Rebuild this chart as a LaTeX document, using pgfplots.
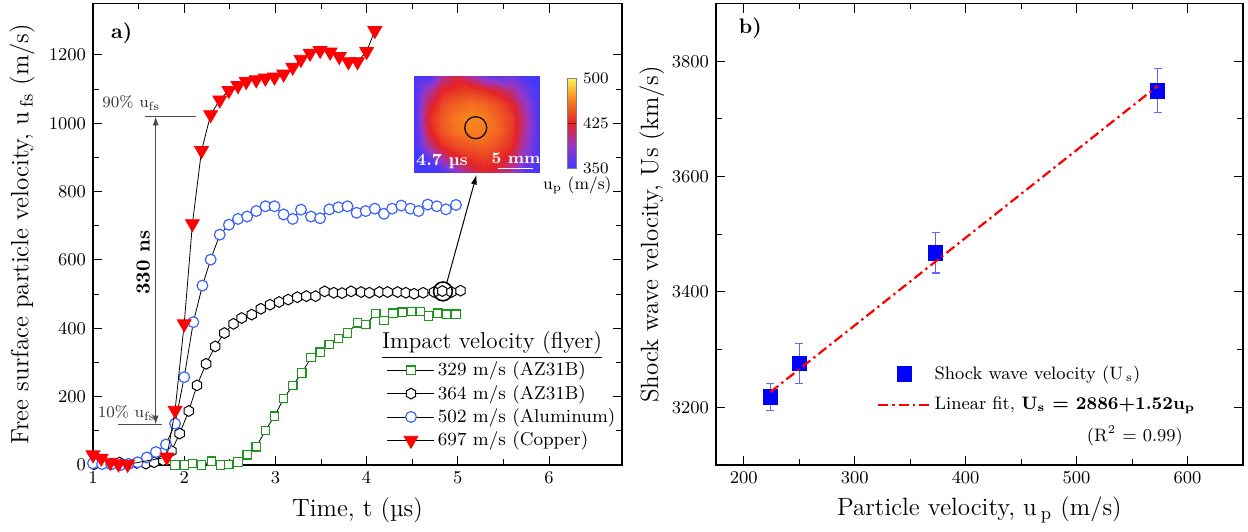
\documentclass[border=0pt]{standalone}
\usepackage{pgfplots}
\pgfplotsset{compat=1.18}
\usetikzlibrary{arrows.meta}

\definecolor{cgreen}{RGB}{30,150,30}
\definecolor{cblue}{RGB}{60,100,250}
\definecolor{ebar}{RGB}{100,100,255}

\pgfdeclareplotmark{hexagon}{%
 \pgfpathmoveto{\pgfpointpolar{90}{\pgfplotmarksize}}%
 \pgfpathlineto{\pgfpointpolar{150}{\pgfplotmarksize}}%
 \pgfpathlineto{\pgfpointpolar{210}{\pgfplotmarksize}}%
 \pgfpathlineto{\pgfpointpolar{270}{\pgfplotmarksize}}%
 \pgfpathlineto{\pgfpointpolar{330}{\pgfplotmarksize}}%
 \pgfpathlineto{\pgfpointpolar{30}{\pgfplotmarksize}}%
 \pgfpathclose\pgfusepathqfillstroke}

\pgfplotsset{
 mystyle/.style={
  scale only axis, width=264.5pt, height=230.7pt,
  tick align=inside, major tick length=4.5pt, minor tick length=2.8pt,
  tick style={black, line width=0.5pt},
  axis line style={line width=0.6pt},
  ticklabel style={font=\fontsize{9}{10}\selectfont},
  /pgf/number format/1000 sep={},
  label style={font=\fontsize{12.5}{14}\selectfont},
  xlabel style={at={(axis description cs:0.5,-0.0975)}, anchor=center},
  clip mode=individual,
 }
}

\pgfplotstableread{
t u
1.00 30
1.09 20
1.19 8
1.28 3
1.38 2
1.81 23
1.90 160
2.00 413
2.09 706
2.19 920
2.29 1025
2.39 1068
2.49 1096
2.59 1110
2.68 1122
2.79 1127
2.89 1132
2.99 1135
3.09 1144
3.19 1164
3.28 1187
3.38 1205
3.49 1213
3.60 1208
3.70 1195
3.80 1180
3.90 1180
4.00 1210
4.09 1271
}\copper

\pgfplotstableread{
t u
1.00 5
1.10 3
1.20 2
1.30 0
1.39 3
1.49 8
1.59 22
1.69 38
1.80 60
1.90 121
2.00 257
2.10 418
2.20 525
2.29 601
2.39 674
2.49 703
2.59 720
2.69 727
2.79 743
2.89 757
2.99 757
3.09 733
3.19 720
3.28 747
3.39 727
3.49 722
3.59 748
3.69 754
3.79 757
3.89 738
3.99 743
4.09 750
4.19 735
4.28 750
4.38 759
4.48 750
4.57 743
4.67 762
4.77 757
4.87 748
4.98 761
}\alum

\pgfplotstableread{
t u
1.01 2
1.10 6
1.20 3
1.29 7
1.39 3
1.48 6
1.58 4
1.67 8
1.77 14
1.86 41
1.95 92
2.05 158
2.14 233
2.24 296
2.34 347
2.44 386
2.54 413
2.63 430
2.74 440
2.84 457
2.94 469
3.04 477
3.14 484
3.24 491
3.34 494
3.44 494
3.54 508
3.64 504
3.73 503
3.83 508
3.94 506
4.03 504
4.14 506
4.23 506
4.34 506
4.43 504
4.52 501
4.62 504
4.74 506
4.83 509
4.93 506
5.03 510
}\azb

\pgfplotstableread{
t u
1.90 0
2.00 0
2.09 4
2.19 0
2.30 11
2.40 0
2.49 2
2.59 9
2.69 30
2.79 53
2.89 101
2.99 143
3.09 194
3.19 233
3.29 269
3.39 314
3.49 330
3.59 353
3.69 370
3.79 386
3.90 416
3.99 411
4.10 443
4.19 423
4.29 444
4.39 447
4.49 449
4.59 449
4.68 436
4.78 444
4.88 441
4.98 441
}\aza

\pgfplotstableread{
x y e
224 3218 23
250 3276 35
373 3468 35
573 3749 38
}\shock

\pgfplotstableread{
x y z
0 0 335
1 0 338
2 0 350
3 0 375
4 0 405
5 0 420
6 0 415
7 0 392
8 0 355
9 0 335
0 1 338
1 1 358
2 1 395
3 1 418
4 1 430
5 1 436
6 1 430
7 1 415
8 1 372
9 1 338
0 2 342
1 2 400
2 2 430
3 2 442
4 2 447
5 2 450
6 2 442
7 2 428
8 2 388
9 2 340
0 3 348
1 3 420
2 3 446
3 3 458
4 3 462
5 3 460
6 3 452
7 3 435
8 3 395
9 3 342
0 4 350
1 4 425
2 4 448
3 4 460
4 4 465
5 4 462
6 4 450
7 4 435
8 4 398
9 4 342
0 5 346
1 5 415
2 5 440
3 5 450
4 5 455
5 5 452
6 5 442
7 5 425
8 5 388
9 5 340
0 6 340
1 6 392
2 6 425
3 6 432
4 6 435
5 6 428
6 6 418
7 6 402
8 6 372
9 6 338
0 7 335
1 7 345
2 7 400
3 7 418
4 7 398
5 7 375
6 7 362
7 7 372
8 7 352
9 7 320
}\heat

\begin{document}
\begin{tikzpicture}
\useasboundingbox (-46.5pt,-33pt) rectangle (577.5pt,232.5pt);

% ---------------- panel a ----------------
\begin{axis}[mystyle, at={(0pt,0pt)}, anchor=south west,
  xmin=1, xmax=6.8, ymin=0, ymax=1350,
  xtick={1,2,3,4,5,6}, ytick={0,200,400,600,800,1000,1200},
  minor x tick num=1, minor y tick num=1,
  xlabel={Time, t (µs)},
  ylabel={Free surface particle velocity, u\,$_{\mathrm{fs}}$ (m/s)},
  ylabel style={at={(axis description cs:-0.134,0.5)}, anchor=center},
  legend cell align=left,
  legend image code/.code={\draw[mark repeat=2,mark phase=2,#1] plot coordinates {(0pt,0pt) (11.75pt,0pt) (23.5pt,0pt)};},
  legend style={at={(axis cs:4.22,312)}, anchor=north west, draw=none, fill=none,
    font=\fontsize{9.3}{11}\selectfont, row sep=0.2pt, inner sep=0pt, nodes={inner sep=1.5pt}},
]
\addplot[black, line width=0.4pt, mark=square*, mark size=2.1pt,
  mark options={draw=cgreen, fill=white, line width=0.6pt}] table[x=t,y=u] {\aza};
\addlegendentry{329 m/s (AZ31B)}
\addplot[black, line width=0.4pt, mark=hexagon, mark size=2.7pt,
  mark options={draw=black, fill=white, line width=0.5pt}] table[x=t,y=u] {\azb};
\addlegendentry{364 m/s (AZ31B)}
\addplot[black, line width=0.4pt, mark=*, mark size=2.7pt,
  mark options={draw=cblue, fill=white, line width=0.6pt}] table[x=t,y=u] {\alum};
\addlegendentry{502 m/s (Aluminum)}
\addplot[black, line width=0.4pt, mark=triangle*, mark size=4pt,
  mark options={draw=red, fill=red, rotate=180}] table[x=t,y=u] {\copper};
\addlegendentry{697 m/s (Copper)}

\node[font=\fontsize{11.5}{13}\selectfont, anchor=base] at (axis cs:5.376,341) {\underline{Impact velocity (flyer)}};
\node[font=\fontsize{10.5}{12}\selectfont\bfseries] at (axis cs:1.314,1264) {a)};

% 90% / 10% annotation
\draw[black!70, line width=0.6pt] (axis cs:1.57,1020) -- (axis cs:2.13,1020);
\draw[black!70, line width=0.6pt] (axis cs:1.27,118) -- (axis cs:1.76,118);
\draw[black!70, line width=0.6pt, {Latex[length=4.5pt,width=3pt]}-{Latex[length=4.5pt,width=3pt]}]
  (axis cs:1.687,1020) -- (axis cs:1.687,118);
\node[font=\fontsize{8}{9}\selectfont, text=black!80] at (axis cs:1.42,1059) {90\% u$_{\mathrm{fs}}$};
\node[font=\fontsize{8}{9}\selectfont, text=black!80] at (axis cs:1.37,151) {10\% u$_{\mathrm{fs}}$};
\node[font=\fontsize{10}{12}\selectfont\bfseries, rotate=90] at (axis cs:1.55,592) {330 ns};

% highlight circle and arrow to inset
\draw[black, line width=0.8pt] (axis cs:4.837,508) circle (4.7pt);
\draw[black, line width=0.5pt, -{Latex[length=5pt,width=3pt]}] (axis cs:4.877,531) -- (axis cs:5.206,850);
\node[font=\fontsize{8.5}{10}\selectfont] at (axis cs:6.31,818) {u$_{\mathrm{p}}$ (m/s)};
\end{axis}

% ---------------- inset heat map ----------------
\begin{axis}[at={(160.5pt,146pt)}, anchor=south west, scale only axis,
  width=63pt, height=48.5pt, hide axis, view={0}{90},
  xmin=0, xmax=9, ymin=0, ymax=7, enlargelimits=false,
  colormap={heat}{rgb255=(65,55,255) rgb255=(150,55,200) rgb255=(228,35,40) rgb255=(248,128,30) rgb255=(255,245,90)},
  point meta min=350, point meta max=500,
  colorbar,
  colorbar style={at={(parent axis.north east)}, anchor=north west, xshift=5pt, yshift=-1pt,
    scale only axis, width=4.5pt, height=45pt, ytick={350,425,500},
    yticklabel style={font=\fontsize{8}{9}\selectfont},
    major tick length=4.5pt, tick style={draw=red!50!black, line width=0.5pt},
    axis line style={gray}},
]
\addplot3[surf, shader=interp, mesh/rows=8, mesh/cols=10] table[x=x,y=y,z=z] {\heat};
\draw[black, line width=0.6pt] (axis cs:4.41,3.27) circle (5.5pt);
\node[text=white, font=\fontsize{8.5}{10}\selectfont\bfseries] at (axis cs:2.0,0.82) {4.7 µs};
\node[text=white, font=\fontsize{8}{9}\selectfont\bfseries] at (axis cs:7.29,1.05) {5 mm};
\draw[white, line width=0.8pt] (axis cs:6.0,0.33) -- (axis cs:8.5,0.33);
\end{axis}

% ---------------- panel b ----------------
\begin{axis}[mystyle, at={(311.5pt,0pt)}, anchor=south west,
  width=263.5pt,
  xmin=175, xmax=650, ymin=3100, ymax=3900,
  xtick={200,300,400,500,600}, ytick={3200,3400,3600,3800},
  minor x tick num=1, minor y tick num=1,
  xlabel={Particle velocity, u\,$_{\mathrm{p}}$ (m/s)},
  ylabel={Shock wave velocity, Us (km/s)},
  ylabel style={at={(axis description cs:-0.1215,0.5)}, anchor=center},
  legend cell align=left,
  legend image code/.code={\draw[mark repeat=2,mark phase=2,#1] plot coordinates {(0pt,0pt) (13pt,0pt) (26pt,0pt)};},
  legend style={at={(axis cs:320.1,3278.4)}, anchor=north west, draw=none, fill=none,
    font=\fontsize{9}{10.5}\selectfont, row sep=4.5pt, inner sep=0pt, nodes={inner sep=1.5pt}},
]
\addplot[only marks, mark=square*, mark size=3.6pt, mark options={draw=blue, fill=blue},
  error bars/.cd, y dir=both, y explicit,
  error bar style={ebar, line width=0.6pt},
  error mark options={rotate=90, mark size=2pt, ebar, line width=0.6pt}]
  table[x=x, y=y, y error=e] {\shock};
\addlegendentry{Shock wave velocity (U\,$_{\mathrm{s}}$)}
\addplot[red, line width=1.1pt, dash pattern=on 5pt off 2pt on 1.2pt off 2pt]
  coordinates {(224,3226.5) (573,3757)};
\addlegendentry{Linear fit, \textbf{U$_{\mathbf{s}}$ = 2886+1.52u$_{\mathbf{p}}$}}
\node[font=\fontsize{9}{10}\selectfont] at (axis cs:552.6,3150.2) {(R\textsuperscript{2} = 0.99)};
\node[font=\fontsize{10.5}{12}\selectfont\bfseries] at (axis cs:205.9,3857) {b)};
\end{axis}
\end{tikzpicture}
\end{document}
